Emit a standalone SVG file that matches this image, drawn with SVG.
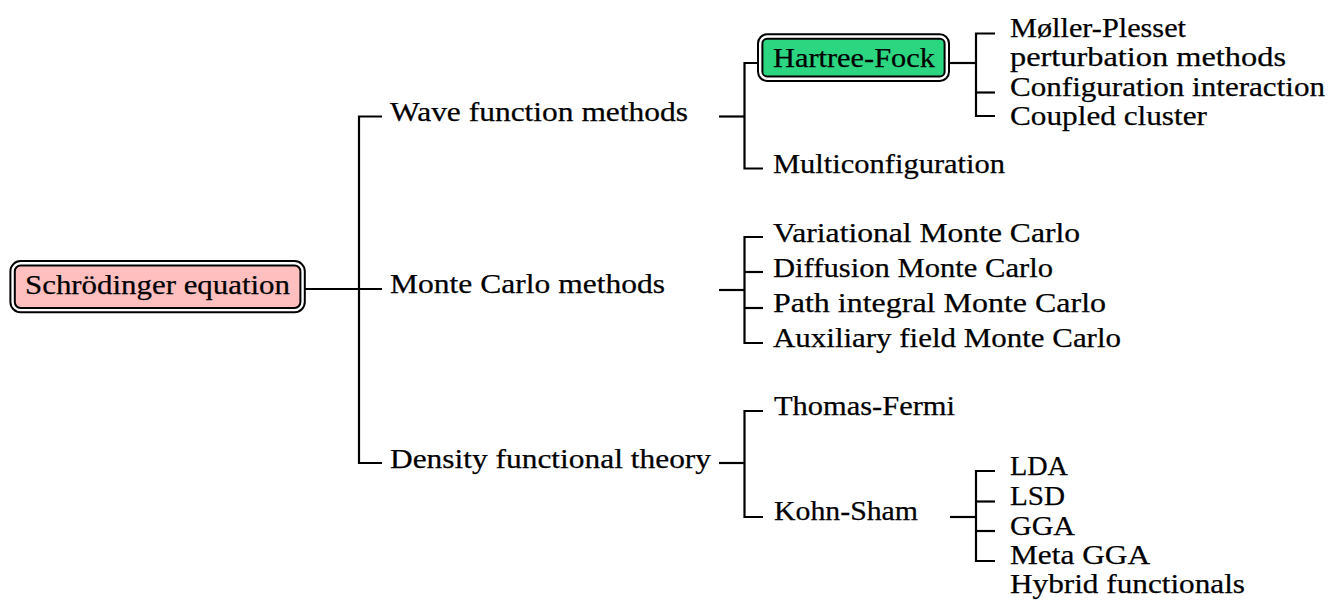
<svg xmlns="http://www.w3.org/2000/svg" width="1332" height="600" viewBox="0 0 1332 600" font-family="'Liberation Serif', 'Times New Roman', serif">
<style>
  .bg { fill: #ffffff; }
  .t { font-family: 'Liberation Serif', 'Times New Roman', serif; font-size: 28px; fill: #000000; stroke: #000000; stroke-width: 0.25; }
  .edge { fill: none; stroke: #000000; stroke-width: 2.2; stroke-linejoin: miter; stroke-linecap: butt; }
  .dbl-out { stroke: #000000; stroke-width: 6.4; }
  .dbl-in { fill: none; stroke: #ffffff; stroke-width: 2.4; }
</style>
<rect class="bg" x="0" y="0" width="1332" height="600"/>

<g id="connectors">
  <path class="edge" d="M305,289 H382"/>
  <path class="edge" d="M382,116.5 H359 V463 H382"/>
  <path class="edge" d="M719,116.5 H744.5"/>
  <path class="edge" d="M757,63 H744.5 V168.5 H763"/>
  <path class="edge" d="M950,63 H976"/>
  <path class="edge" d="M995,33.5 H976 V116 H995"/>
  <path class="edge" d="M976,92.5 H995"/>
  <path class="edge" d="M719,290 H744.5"/>
  <path class="edge" d="M763,237 H744.5 V343 H763"/>
  <path class="edge" d="M744.5,272 H763"/>
  <path class="edge" d="M744.5,308 H763"/>
  <path class="edge" d="M719,463 H744.5"/>
  <path class="edge" d="M763,411 H744.5 V517 H763"/>
  <path class="edge" d="M950,517 H976"/>
  <path class="edge" d="M995,471 H976 V561 H995"/>
  <path class="edge" d="M976,501.5 H995"/>
  <path class="edge" d="M976,531 H995"/>
</g>

<g id="node-schrodinger">
  <rect class="dbl-out" x="12.6" y="263.3" width="290" height="46.8" rx="8" fill="#ffbfbf"/>
  <rect class="dbl-in" x="12.6" y="263.3" width="290" height="46.8" rx="8"/>
  <text class="t" x="25" y="294" textLength="265" lengthAdjust="spacingAndGlyphs">Schrödinger equation</text>
</g>

<g id="node-wave">
  <text class="t" x="390" y="120.7" textLength="298" lengthAdjust="spacingAndGlyphs">Wave function methods</text>
</g>
<g id="node-montecarlo">
  <text class="t" x="390" y="293.3" textLength="275" lengthAdjust="spacingAndGlyphs">Monte Carlo methods</text>
</g>
<g id="node-dft">
  <text class="t" x="390" y="468" textLength="321" lengthAdjust="spacingAndGlyphs">Density functional theory</text>
</g>

<g id="node-hartreefock">
  <rect class="dbl-out" x="760.2" y="36.5" width="186.6" height="42.2" rx="7" fill="#2cd680"/>
  <rect class="dbl-in" x="760.2" y="36.5" width="186.6" height="42.2" rx="7"/>
  <text class="t" x="773" y="67" textLength="162" lengthAdjust="spacingAndGlyphs">Hartree-Fock</text>
</g>
<g id="node-moller">
  <text class="t" x="1010" y="36.5" textLength="176" lengthAdjust="spacingAndGlyphs">Møller-Plesset</text>
  <text class="t" x="1010" y="66" textLength="276" lengthAdjust="spacingAndGlyphs">perturbation methods</text>
</g>
<g id="node-ci">
  <text class="t" x="1010" y="95.5" textLength="315" lengthAdjust="spacingAndGlyphs">Configuration interaction</text>
</g>
<g id="node-cc">
  <text class="t" x="1010" y="124.5" textLength="197" lengthAdjust="spacingAndGlyphs">Coupled cluster</text>
</g>
<g id="node-multiconf">
  <text class="t" x="773" y="172.5" textLength="232" lengthAdjust="spacingAndGlyphs">Multiconfiguration</text>
</g>

<g id="node-vmc">
  <text class="t" x="773" y="242" textLength="307" lengthAdjust="spacingAndGlyphs">Variational Monte Carlo</text>
</g>
<g id="node-dmc">
  <text class="t" x="773" y="277" textLength="280" lengthAdjust="spacingAndGlyphs">Diffusion Monte Carlo</text>
</g>
<g id="node-pimc">
  <text class="t" x="773" y="312" textLength="333" lengthAdjust="spacingAndGlyphs">Path integral Monte Carlo</text>
</g>
<g id="node-afmc">
  <text class="t" x="773" y="347" textLength="348" lengthAdjust="spacingAndGlyphs">Auxiliary field Monte Carlo</text>
</g>

<g id="node-thomasfermi">
  <text class="t" x="774" y="415" textLength="181" lengthAdjust="spacingAndGlyphs">Thomas-Fermi</text>
</g>
<g id="node-kohnsham">
  <text class="t" x="774" y="520" textLength="144" lengthAdjust="spacingAndGlyphs">Kohn-Sham</text>
</g>
<g id="node-lda">
  <text class="t" x="1010" y="475" textLength="58" lengthAdjust="spacingAndGlyphs">LDA</text>
</g>
<g id="node-lsd">
  <text class="t" x="1010" y="505" textLength="55" lengthAdjust="spacingAndGlyphs">LSD</text>
</g>
<g id="node-gga">
  <text class="t" x="1010" y="535" textLength="65" lengthAdjust="spacingAndGlyphs">GGA</text>
</g>
<g id="node-metagga">
  <text class="t" x="1010" y="564" textLength="140" lengthAdjust="spacingAndGlyphs">Meta GGA</text>
</g>
<g id="node-hybrid">
  <text class="t" x="1010" y="593" textLength="235" lengthAdjust="spacingAndGlyphs">Hybrid functionals</text>
</g>
</svg>
